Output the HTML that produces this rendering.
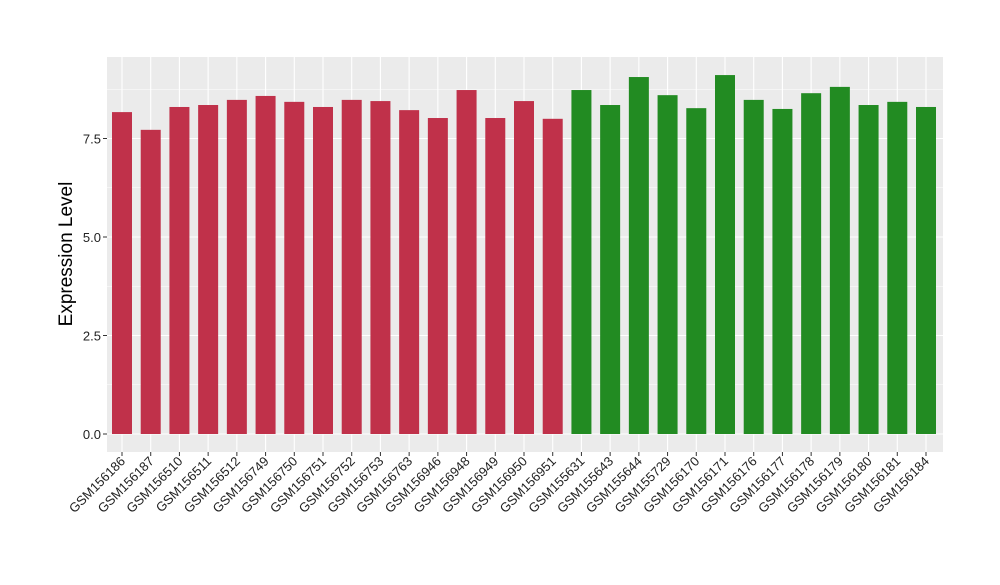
<!DOCTYPE html>
<html><head><meta charset="utf-8"><style>
body{margin:0;background:#fff;}
svg{font-family:"Liberation Sans",sans-serif;}
</style></head><body>
<svg id="chart" width="1000" height="580">
<rect x="107" y="57" width="836" height="395" fill="#EBEBEB"/>
<g id="grid"></g><g id="bars"></g><g id="yaxis"></g><g id="xaxis"></g>
<text x="72" y="254" font-size="19" text-anchor="middle" transform="rotate(-90 72 254)">Expression Level</text>
</svg>
<script>
const categories=["GSM156186","GSM156187","GSM156510","GSM156511","GSM156512","GSM156749","GSM156750","GSM156751","GSM156752","GSM156753","GSM156763","GSM156946","GSM156948","GSM156949","GSM156950","GSM156951","GSM155631","GSM155643","GSM155644","GSM155729","GSM156170","GSM156171","GSM156176","GSM156177","GSM156178","GSM156179","GSM156180","GSM156181","GSM156184"];
const values=[8.17,7.72,8.30,8.35,8.48,8.58,8.43,8.30,8.48,8.45,8.22,8.02,8.73,8.02,8.45,8.00,8.73,8.35,9.06,8.60,8.27,9.11,8.48,8.25,8.65,8.81,8.35,8.43,8.30];
const groups=["a","a","a","a","a","a","a","a","a","a","a","a","a","a","a","a","b","b","b","b","b","b","b","b","b","b","b","b","b"];
const yTicks=[0,2.5,5,7.5];
const yTickLabels=["0.0","2.5","5.0","7.5"];
const colors={a:"#C0314A",b:"#228B22"};
const ns="http://www.w3.org/2000/svg";
const y=v=>434-v*39.4;
const x=i=>122+i*(926-122)/(categories.length-1);
function mk(t,a,p){const e=document.createElementNS(ns,t);for(const k in a)e.setAttribute(k,a[k]);document.getElementById(p).appendChild(e);return e;}
for(let k=0;k<yTicks.length;k++){
 const yy=y(yTicks[k]);
 const g=mk("line",{x1:107,x2:943,y1:yy,y2:yy,stroke:"#fff","stroke-width":1.1},"grid");
 
 
 if(k<yTicks.length-1){const m=y((yTicks[k]+yTicks[k+1])/2);
 const g2=mk("line",{x1:107,x2:943,y1:m,y2:m,stroke:"#fff","stroke-width":0.5},"grid");
 
 }
 const t=mk("text",{x:101,y:yy+5,"font-size":13,"text-anchor":"end",fill:"#222"},"yaxis");
 t.textContent=yTickLabels[k];
 
 
 mk("line",{x1:103,x2:107,y1:yy,y2:yy,stroke:"#333"},"yaxis");
}
{const m=y(8.75);const g2=mk("line",{x1:107,x2:943,y1:m,y2:m,stroke:"#fff","stroke-width":0.5},"grid");

}
for(let i=0;i<categories.length;i++){
 const cx=x(i);
 const g=mk("line",{x1:cx,x2:cx,y1:57,y2:452,stroke:"#fff","stroke-width":1.1},"grid");
 
 
 const b=mk("rect",{x:cx-10,y:y(values[i]),width:20,height:y(0)-y(values[i]),fill:colors[groups[i]]},"bars");
 
 
 mk("line",{x1:cx,x2:cx,y1:452,y2:456,stroke:"#333"},"xaxis");
 const t=mk("text",{x:cx+4,y:462,"font-size":13,"text-anchor":"end",fill:"#222",transform:`rotate(-45 ${cx+4} 462)`},"xaxis");
 t.textContent=categories[i];
 
 
}
</script>
</body></html>
